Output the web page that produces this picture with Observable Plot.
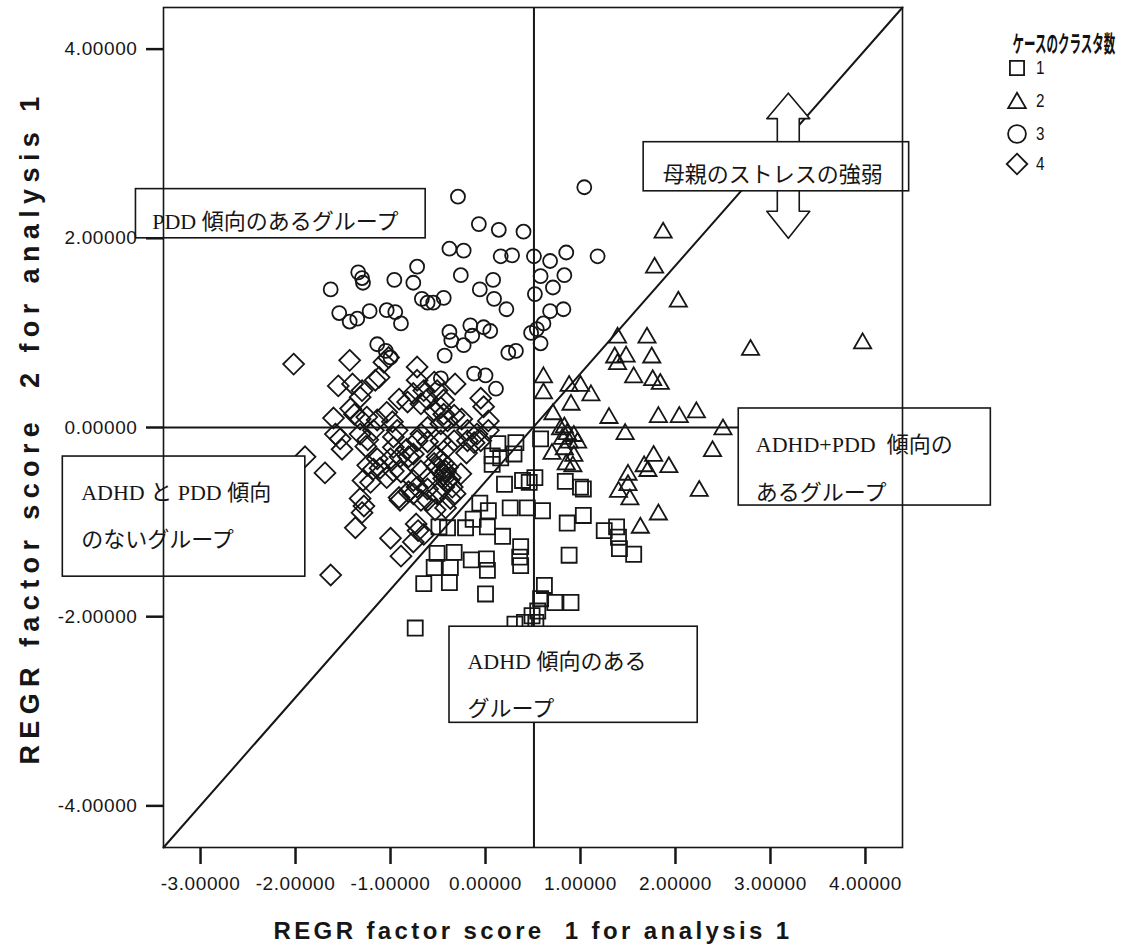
<!DOCTYPE html>
<html>
<head>
<meta charset="utf-8">
<script src="https://cdn.jsdelivr.net/npm/d3@7"></script>
<script src="https://cdn.jsdelivr.net/npm/@observablehq/plot@0.6"></script>
<style>
  body { margin: 0; background: #fff; }
  #wrap { position: relative; width: 1134px; height: 949px; }
  #legend { position: absolute; left: 975px; top: 30px; width: 150px; color: #111; font-family: "Noto Sans CJK JP", sans-serif; }
  #legend .title { font-size: 23px; font-weight: 700; white-space: nowrap; transform: scaleX(0.5); transform-origin: center; text-align: center; line-height: 24px; height: 24px; }
  #legend .row { position: absolute; left: 30px; height: 24px; display: flex; align-items: center; }
  #legend .row span { display: inline-block; font-family: "Liberation Sans", sans-serif; font-size: 19px; line-height: 20px; margin-left: 6px; transform: scaleX(0.8); }
</style>
</head>
<body>
<div id="wrap"></div>
<script>
const ink = "#161616";

// Axis setup
const xDomain = [-3.39, 4.39];
const yDomain = [-4.44, 4.44];
const xTicks = [-3, -2, -1, 0, 1, 2, 3, 4];
const yTicks = [-4, -2, 0, 2, 4];
const splitX = 0.51;
const splitY = 0;
const xLabel = "REGR factor score\u00a0\u00a01 for analysis 1";
const yLabel = "REGR factor score\u00a0\u00a02 for analysis 1";
const legendTitle = "ケースのクラスタ数";
const clusterNames = ["1", "2", "3", "4"];

// Cluster 1 (squares)
const cluster1 = [[0.13,-0.17],[0.32,-0.16],[0.58,-0.12],[0.07,-0.30],[0.07,-0.39],[0.16,-0.32],[0.30,-0.28],[0.20,-0.60],[0.39,-0.56],[0.46,-0.58],[0.52,-0.53],[0.84,-0.57],[1.00,-0.63],[1.03,-0.65],[-0.06,-0.80],[0.03,-0.88],[-0.13,-0.97],[-0.21,-1.06],[0.02,-1.05],[-0.49,-1.05],[-0.40,-1.06],[0.26,-0.85],[0.44,-0.85],[0.60,-0.88],[0.18,-1.15],[0.86,-1.01],[1.03,-0.93],[1.25,-1.09],[1.38,-1.05],[1.40,-1.16],[1.41,-1.28],[1.56,-1.34],[0.37,-1.26],[0.36,-1.37],[0.37,-1.46],[0.88,-1.35],[-0.51,-1.33],[-0.33,-1.32],[-0.15,-1.40],[0.01,-1.39],[0.02,-1.51],[-0.54,-1.48],[-0.37,-1.48],[-0.65,-1.65],[-0.38,-1.64],[0.00,-1.76],[0.62,-1.67],[0.58,-1.81],[0.73,-1.85],[0.90,-1.85],[0.55,-1.94],[0.49,-1.99],[0.41,-2.06],[0.31,-2.08],[0.53,-2.06],[-0.74,-2.12]];

// Cluster 2 (triangles)
const cluster2 = [[1.87,2.06],[1.78,1.69],[2.03,1.33],[3.97,0.89],[2.79,0.82],[1.39,0.95],[1.70,0.95],[1.36,0.74],[1.39,0.67],[1.48,0.75],[1.75,0.74],[1.56,0.53],[1.76,0.50],[1.84,0.46],[0.88,0.44],[1.00,0.44],[1.11,0.34],[0.90,0.24],[0.61,0.53],[0.61,0.36],[0.71,0.14],[1.30,0.10],[1.82,0.11],[2.04,0.11],[2.22,0.16],[1.47,-0.07],[2.50,-0.02],[0.79,-0.02],[0.86,-0.07],[0.93,-0.09],[0.88,-0.16],[0.81,-0.12],[0.97,-0.16],[0.70,-0.28],[0.83,-0.23],[0.93,-0.30],[0.85,-0.39],[0.92,-0.41],[2.39,-0.25],[1.77,-0.30],[1.67,-0.41],[1.71,-0.46],[1.93,-0.42],[1.50,-0.50],[1.40,-0.68],[1.50,-0.61],[1.52,-0.76],[2.25,-0.67],[1.82,-0.92],[1.63,-1.06],[0.83,0.00]];

// Cluster 3 (circles)
const cluster3 = [[1.04,2.54],[-0.29,2.44],[-0.07,2.15],[0.14,2.09],[0.40,2.07],[-0.38,1.89],[-0.23,1.87],[0.16,1.81],[0.28,1.82],[0.51,1.81],[0.68,1.76],[0.85,1.85],[1.18,1.81],[-0.72,1.70],[-1.34,1.64],[-1.30,1.58],[-1.29,1.53],[-1.63,1.46],[-0.96,1.56],[-0.76,1.53],[-0.26,1.61],[0.08,1.56],[-0.06,1.46],[0.09,1.36],[0.22,1.25],[0.58,1.60],[0.71,1.48],[0.83,1.61],[0.52,1.41],[-0.67,1.36],[-0.61,1.32],[-0.55,1.32],[-0.44,1.37],[-1.04,1.24],[-0.95,1.22],[0.68,1.23],[0.82,1.25],[-1.54,1.21],[-1.43,1.12],[-1.35,1.15],[-1.22,1.23],[-0.89,1.10],[-0.38,1.01],[-0.36,0.92],[-0.23,0.87],[-0.16,1.08],[-0.14,0.97],[-0.02,1.06],[0.05,1.02],[-0.43,0.76],[0.24,0.79],[0.32,0.81],[0.48,1.00],[0.54,1.04],[0.61,1.10],[0.58,0.89],[-1.14,0.88],[-1.05,0.81],[-1.00,0.74],[-0.12,0.57],[0.00,0.55],[0.11,0.41],[-0.47,0.52]];

// Cluster 4 (diamonds)
const cluster4 = [[-2.02,0.67],[-1.43,0.71],[-1.55,0.44],[-1.40,0.46],[-1.30,0.39],[-1.16,0.50],[-1.60,0.10],[-1.58,-0.07],[-1.53,-0.12],[-1.51,-0.23],[-1.42,0.20],[-1.38,0.14],[-1.32,0.32],[-1.32,0.09],[-1.25,0.11],[-1.14,0.08],[-1.32,-0.07],[-1.24,-0.13],[-1.26,-0.20],[-1.18,-0.03],[-1.04,0.16],[-0.98,0.06],[-1.07,0.69],[-1.02,0.74],[-1.12,0.53],[-0.93,-0.03],[-0.97,-0.10],[-0.91,0.30],[-0.82,0.27],[-0.72,0.64],[-0.72,0.50],[-0.65,0.39],[-0.61,0.30],[-0.68,0.25],[-0.76,0.36],[-0.51,0.39],[-0.44,0.29],[-0.32,0.46],[-0.44,0.14],[-0.40,0.07],[-0.33,0.13],[-0.25,0.09],[-0.54,0.18],[-0.47,0.21],[-0.61,0.00],[-0.68,-0.07],[-0.05,0.31],[-0.02,0.22],[-0.09,-0.07],[-0.12,-0.16],[-0.05,-0.14],[0.03,0.07],[0.03,-0.03],[-0.20,-0.27],[-0.19,-0.03],[-0.19,-0.14],[-0.33,-0.14],[-0.40,-0.21],[-0.47,-0.14],[-0.51,-0.31],[-0.47,-0.35],[-0.54,-0.38],[-0.44,-0.38],[-0.40,-0.42],[-0.47,-0.46],[-0.51,-0.42],[-0.44,-0.54],[-0.76,-0.28],[-0.81,-0.31],[-0.90,-0.31],[-0.97,-0.21],[-1.00,-0.33],[-0.97,-0.46],[-1.14,-0.33],[-1.11,-0.43],[-1.18,-0.44],[-1.24,-0.40],[-1.29,-0.56],[-1.21,-0.58],[-1.04,-0.53],[-0.89,-0.47],[-0.76,-0.56],[-0.72,-0.63],[-0.90,-0.77],[-0.61,-0.65],[-0.51,-0.70],[-0.44,-0.63],[-0.35,-0.63],[-0.32,-0.70],[-0.37,-0.53],[-0.26,-0.49],[-0.76,-0.70],[-0.68,-0.77],[-0.61,-0.77],[-0.53,-0.87],[-0.42,-0.85],[-0.37,-0.75],[-1.32,-0.75],[-1.28,-0.83],[-1.30,-0.90],[-1.37,-1.06],[-1.00,-1.17],[-0.89,-1.36],[-0.73,-1.02],[-0.71,-1.09],[-0.65,-1.13],[-0.76,-1.21],[-1.69,-0.48],[-1.90,-0.31],[-1.63,-1.56],[-0.72,-0.14],[-0.61,-0.15],[-0.83,-0.23],[-0.68,-0.46],[-0.61,-0.54],[-0.81,-0.68],[-0.91,-0.74],[-0.47,0.04],[-0.42,-0.46],[-0.44,-0.50],[-0.39,-0.56],[-0.54,0.48]];

// Annotation boxes and their texts (data coordinates)
const noteBoxes = [
  {x1: -3.68, x2: -0.63, y1: 2.00, y2: 2.52},
  {x1: 1.665, x2: 4.46, y1: 2.497, y2: 3.016},
  {x1: 2.666, x2: 5.32, y1: -0.825, y2: 0.201},
  {x1: -4.45, x2: -1.897, y1: -1.577, y2: -0.307},
  {x1: -0.379, x2: 2.234, y1: -3.122, y2: -2.106}
];
const noteTexts = [
  {x: -3.509, y: 2.254, text: "PDD 傾向のあるグループ"},
  {x: 1.865, y: 2.751, text: "母親のストレスの強弱"},
  {x: 2.845, y: -0.354, text: "ADHD+PDD  傾向の\nあるグループ"},
  {x: -4.257, y: -0.857, text: "ADHD と PDD 傾向\nのないグループ"},
  {x: -0.19, y: -2.640, text: "ADHD 傾向のある\nグループ"}
];
// Double-headed block arrow (data coordinates)
const arrowShape = [[3.188,3.534],[3.414,3.265],[3.303,3.265],[3.303,2.286],[3.414,2.286],[3.188,2.0],[2.961,2.286],[3.072,2.286],[3.072,3.265],[2.961,3.265],[3.188,3.534]];

const diamondSym = {draw(ctx, size) { const r = Math.sqrt(size) * 0.62625; ctx.moveTo(0, -r); ctx.lineTo(r, 0); ctx.lineTo(0, r); ctx.lineTo(-r, 0); ctx.closePath(); }};
const dotOpts = {x: d => d[0], y: d => d[1], fill: "none", stroke: ink, strokeWidth: 1.8};
const serif = "'Liberation Serif', 'Noto Sans CJK JP', serif";
const tickFmt = d => d.toFixed(5);

const chart = Plot.plot({
  width: 1134,
  height: 949,
  marginLeft: 163,
  marginRight: 232,
  marginTop: 7,
  marginBottom: 102,
  x: {domain: xDomain},
  y: {domain: yDomain},
  style: {background: "white", fontFamily: "'Liberation Sans', sans-serif", color: ink, overflow: "visible"},
  marks: [
    Plot.ruleX([splitX], {stroke: ink, strokeWidth: 2}),
    Plot.ruleY([splitY], {stroke: ink, strokeWidth: 2}),
    Plot.line([[xDomain[0], yDomain[0]], [xDomain[1], yDomain[1]]], {stroke: ink, strokeWidth: 2}),
    Plot.dot(cluster1, {...dotOpts, symbol: "square", r: 8.5}),
    Plot.dot(cluster2, {...dotOpts, symbol: "triangle", r: 6.4}),
    Plot.dot(cluster3, {...dotOpts, symbol: "circle", r: 7}),
    Plot.dot(cluster4, {...dotOpts, symbol: diamondSym, r: 9.4}),
    Plot.line(arrowShape, {x: d => d[0], y: d => d[1], fill: "white", stroke: ink, strokeWidth: 1.6}),
    Plot.rect(noteBoxes, {x1: "x1", x2: "x2", y1: "y1", y2: "y2", fill: "white", stroke: ink, strokeWidth: 1.6}),
    Plot.text(noteTexts, {x: "x", y: "y", text: "text", textAnchor: "start", lineAnchor: "middle", lineHeight: 2.15, fontSize: 22, fontFamily: serif, fill: ink}),
    Plot.frame({stroke: ink, strokeWidth: 1.6}),
    Plot.axisX({ticks: xTicks, tickFormat: tickFmt, tickSize: 17, tickPadding: 12, strokeWidth: 2.5, fontSize: 19, label: null}),
    Plot.axisY({ticks: yTicks, tickFormat: tickFmt, tickSize: 17, tickPadding: 9, strokeWidth: 2.5, fontSize: 19, label: null}),
    Plot.text([xLabel], {text: d => d, frameAnchor: "bottom", textAnchor: "middle", lineAnchor: "middle", dy: 84, fontSize: 24, fontWeight: "bold", fill: ink}),
    Plot.text([yLabel], {text: d => d, frameAnchor: "left", textAnchor: "middle", lineAnchor: "middle", dx: -133, rotate: -90, fontSize: 27, fontWeight: "bold", fill: ink})
  ]
});

// Letter-spacing for the wide-set axis texts
const svgSel = d3.select(chart);
svgSel.selectAll("text").each(function() {
  const t = this.textContent;
  if (t === xLabel) this.style.letterSpacing = "3.4px";
  else if (t === yLabel) this.style.letterSpacing = "6.4px";
  else if (/^-?\d\.\d{5}$/.test(t)) this.style.letterSpacing = "0.6px";
});

const wrap = document.getElementById("wrap");
wrap.appendChild(chart);

// Legend
const legend = document.createElement("div");
legend.id = "legend";
const title = document.createElement("div");
title.className = "title";
title.textContent = legendTitle;
legend.appendChild(title);
const legendSymbols = [
  d3.symbol().type(d3.symbolSquare).size(200)(),
  d3.symbol().type(d3.symbolTriangle).size(135)(),
  d3.symbol().type(d3.symbolCircle).size(250)(),
  d3.symbol().type(diamondSym).size(270)()
];
const rowTops = [26, 59, 92, 122];
clusterNames.forEach((name, i) => {
  const row = document.createElement("div");
  row.className = "row";
  row.style.top = rowTops[i] + "px";
  const svg = d3.create("svg").attr("width", 24).attr("height", 24);
  svg.append("path").attr("d", legendSymbols[i]).attr("transform", i === 1 ? "translate(12,14)" : "translate(12,12)")
    .attr("fill", "none").attr("stroke", ink).attr("stroke-width", 1.8);
  row.appendChild(svg.node());
  const lab = document.createElement("span");
  lab.textContent = name;
  row.appendChild(lab);
  legend.appendChild(row);
});
wrap.appendChild(legend);
</script>
</body>
</html>
